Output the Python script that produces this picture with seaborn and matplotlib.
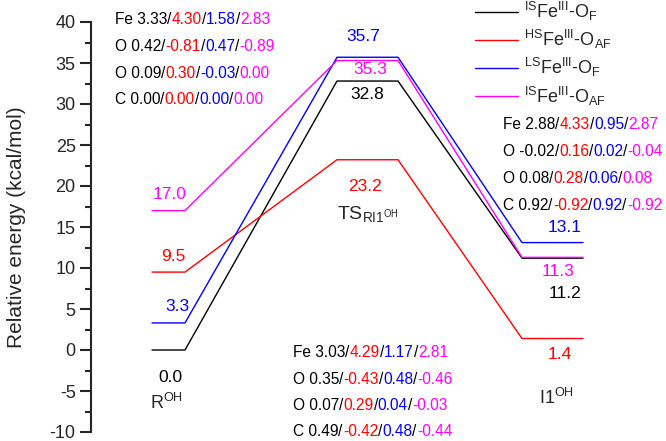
import numpy as np
import pandas as pd
import matplotlib
matplotlib.use('Agg')
import matplotlib.pyplot as plt
import matplotlib.transforms as mtransforms
import seaborn as sns

# energies (kcal/mol) for R, TS, I1
states = ['R', 'TS', 'I1']
series = [r'$^{IS}$Fe$^{III}$-O$_{F}$', r'$^{HS}$Fe$^{III}$-O$_{AF}$',
          r'$^{LS}$Fe$^{III}$-O$_{F}$', r'$^{IS}$Fe$^{III}$-O$_{AF}$']
e_is_f = [0.0, 32.8, 11.2]
e_hs_af = [9.5, 23.2, 1.4]
e_ls_f = [3.3, 35.7, 13.1]
e_is_af = [17.0, 35.3, 11.3]
energies = [e_is_f, e_hs_af, e_ls_f, e_is_af]
state_labels = [r'R$^{OH}$', r'TS$_{RI1^{OH}}$', r'I1$^{OH}$']

# spin densities (Fe, O, O, C) for each species, four spin states each
atoms = ['Fe', 'O', 'O', 'C']
spin_r = [['3.33', '4.30', '1.58', '2.83'],
          ['0.42', '-0.81', '0.47', '-0.89'],
          ['0.09', '0.30', '-0.03', '0.00'],
          ['0.00', '0.00', '0.00', '0.00']]
spin_ts = [['3.03', '4.29', '1.17', '2.81'],
           ['0.35', '-0.43', '0.48', '-0.46'],
           ['0.07', '0.29', '0.04', '-0.03'],
           ['0.49', '-0.42', '0.48', '-0.44']]
spin_i1 = [['2.88', '4.33', '0.95', '2.87'],
           ['-0.02', '0.16', '0.02', '-0.04'],
           ['0.08', '0.28', '0.06', '0.08'],
           ['0.92', '-0.92', '0.92', '-0.92']]

colors = ['#000000', '#ff0000', '#0000ff', '#ff00ff']

# layout: level extents along the hidden x axis
level_x = [(61, 94), (246, 307), (431, 492)]
# label offsets (x, dy) for each series / state
label_off = [[(79, -3.4), (276, -1.6), (474, -4.3)],
             [(82, 1.9), (274, -3.3), (469, -2.0)],
             [(86, 2.0), (272, 2.5), (474, 1.9)],
             [(79, 2.0), (279, -1.1), (467, -1.7)]]

sns.set_style('ticks')
plt.rcParams['font.family'] = ['Liberation Sans', 'DejaVu Sans']
plt.rcParams['mathtext.fontset'] = 'custom'
plt.rcParams['mathtext.rm'] = 'Liberation Sans'
plt.rcParams['mathtext.default'] = 'regular'
plt.rcParams['axes.unicode_minus'] = False

rows = []
for name, en in zip(series, energies):
    for (x0, x1), e in zip(level_x, en):
        rows.append((name, x0, e))
        rows.append((name, x1, e))
df = pd.DataFrame(rows, columns=['series', 'x', 'energy'])

fig = plt.figure(figsize=(6.66, 4.41), dpi=100)
ax = fig.add_axes([91 / 666, 9 / 441, 575 / 666, 410 / 441])
sns.lineplot(data=df, x='x', y='energy', hue='series', hue_order=series,
             palette=colors, sort=False, estimator=None, linewidth=1.0, ax=ax)

ax.set_xlim(0, 575)
ax.set_ylim(-10, 40)
ax.set_yticks(np.arange(-10, 41, 5))
ax.set_yticks(np.arange(-10, 41, 2.5), minor=True)
ax.tick_params(axis='y', which='major', length=8, width=1.5, labelsize=13, pad=3)
ax.tick_params(axis='y', which='minor', length=4.5, width=1.5)
ax.spines['left'].set_linewidth(1.5)
for s in ['top', 'right', 'bottom']:
    ax.spines[s].set_visible(False)
ax.xaxis.set_visible(False)
ax.set_xlabel('')
ax.set_ylabel('Relative energy (kcal/mol)', fontsize=15, labelpad=17)

handles, labels = ax.get_legend_handles_labels()
ax.legend(handles, labels, loc='upper left', bbox_to_anchor=(475 / 666, 1.0),
          bbox_transform=fig.transFigure, frameon=False, fontsize=13,
          handlelength=2.4, handletextpad=0.3, labelspacing=0.28,
          borderpad=0, borderaxespad=0)

# energy labels
for k, en in enumerate(energies):
    for j, e in enumerate(en):
        lx, dy = label_off[k][j]
        ax.text(lx, e + dy, f'{e:.1f}', color=colors[k], fontsize=12.5,
                ha='center', va='center')

ax.text(76, -6.4, state_labels[0], fontsize=13, ha='center', va='center')
ax.text(277, 16.6, state_labels[1], fontsize=14, ha='center', va='center')
ax.text(466, -5.8, state_labels[2], fontsize=13, ha='center', va='center')

# multicoloured spin density lines
renderer = fig.canvas.get_renderer()


def rainbow(x, y, atom, vals):
    parts = [(atom + ' ' + vals[0], colors[0])]
    for v, c in zip(vals[1:], colors[1:]):
        parts.append(('/', colors[0]))
        parts.append((v, c))
    t = ax.transData
    for s, c in parts:
        txt = ax.text(x, y, s, color=c, transform=t, fontsize=11.2, va='baseline')
        txt.draw(renderer)
        ext = txt.get_window_extent(renderer)
        t = mtransforms.offset_copy(txt.get_transform(), fig=fig, x=ext.width, units='dots')


for block, bx, ys in [(spin_r, 24, [39.8, 36.5, 33.2, 30.0]),
                      (spin_i1, 412, [27.0, 23.7, 20.4, 17.1]),
                      (spin_ts, 202, [-0.9, -4.1, -7.3, -10.5])]:
    for atom, vals, y in zip(atoms, block, ys):
        rainbow(bx, y, atom, vals)

fig.savefig('out.png', dpi=100)
